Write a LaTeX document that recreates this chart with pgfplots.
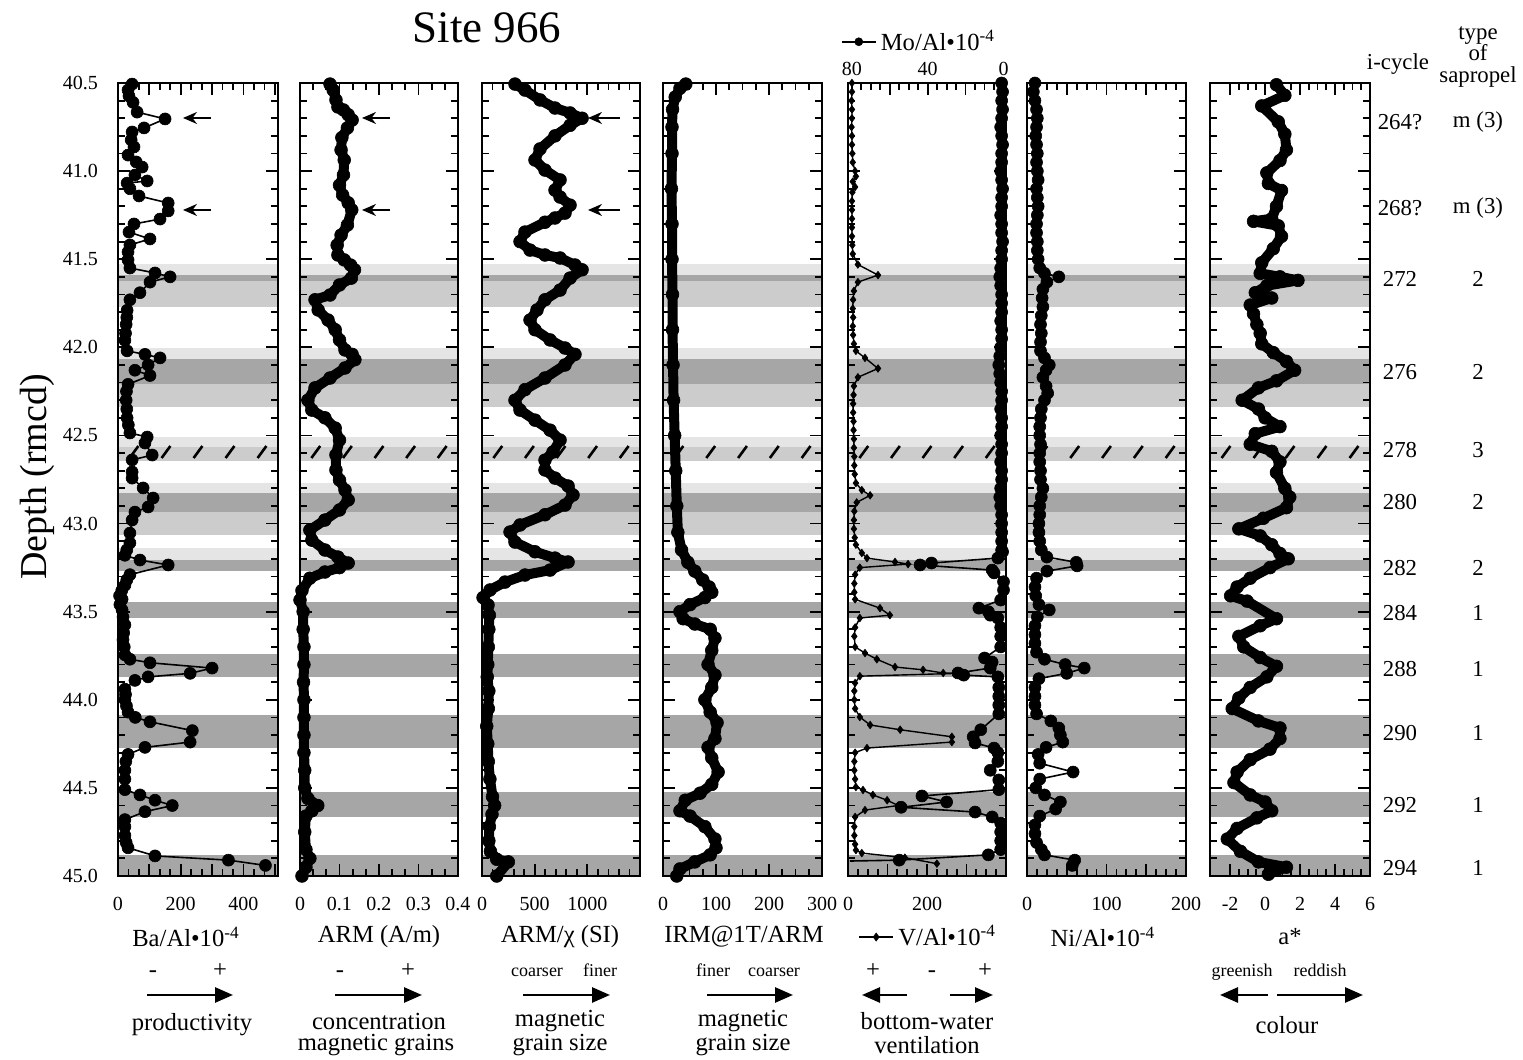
\documentclass[border=0pt]{standalone}
\usepackage{fontspec}
\setmainfont{Liberation Serif}
\usepackage{pgfplots}
\pgfplotsset{compat=1.18}
\usetikzlibrary{arrows.meta}
\definecolor{vlight}{gray}{0.90}
\definecolor{lgray}{gray}{0.80}
\definecolor{dgray}{gray}{0.65}
\newcommand\band[3]{\fill[#1] ({rel axis cs:0,0}|-{axis cs:0,#2}) rectangle ({rel axis cs:1,0}|-{axis cs:0,#3});}
\newcommand\allbands{%
\band{vlight}{41.527}{41.590}\band{dgray}{41.590}{41.624}\band{lgray}{41.624}{41.771}%
\band{vlight}{42.004}{42.066}\band{dgray}{42.066}{42.208}\band{lgray}{42.208}{42.339}%
\band{vlight}{42.509}{42.566}\band{lgray}{42.566}{42.645}%
\band{vlight}{42.770}{42.827}\band{dgray}{42.827}{42.935}\band{lgray}{42.935}{43.065}%
\band{vlight}{43.139}{43.207}\band{dgray}{43.207}{43.270}%
\band{dgray}{43.446}{43.536}\band{dgray}{43.740}{43.871}\band{dgray}{44.087}{44.274}%
\band{dgray}{44.524}{44.666}\band{dgray}{44.881}{45.0}%
\pgfplotsinvokeforeach{0.1,0.3,0.5,0.7,0.9}{\draw[line width=1.3pt] ({rel axis cs:##1,0}|-{axis cs:0,42.594}) ++(-2.2pt,-3pt) -- ++(4.4pt,6pt);}%
}
\pgfplotsset{
 panel/.style={scale only axis, height=396.5pt, anchor=south west,
  y dir=reverse, ymin=40.5, ymax=45,
  ytick={40.5,41,41.5,42,42.5,43,43.5,44,44.5,45}, minor y tick num=4, yticklabels={},
  xtick pos=both, xticklabel pos=lower, ytick pos=both,
  tick align=inside, major tick length=6pt, minor tick length=3.3pt,
  every tick/.style={line width=0.9pt, black},
  axis line style={line width=1.4pt},
  clip=false, axis on top,
  tick label style={font=\fontsize{10}{12}\selectfont},
  /pgf/number format/assume math mode=true},
 lowlab/.style={xticklabel style={yshift=-7pt}},
 thick/.style={black, line width=5pt, line join=round, line cap=round, mark=*, mark size=3.2pt, mark options={line width=0.3pt}},
 dots/.style={black, line width=0.8pt, mark=*, mark size=3pt, mark options={line width=0.3pt}},
}
\newcommand\fa{\fontsize{12.3}{14}\selectfont}
\newcommand\fs{\fontsize{9}{11}\selectfont}
\newcommand\fr{\fontsize{11.4}{10.8}\selectfont}
\begin{document}
\begin{tikzpicture}
\path[use as bounding box] (0,0) rectangle (761.5pt,530pt);
% ---------- Panel 1: Ba/Al
\begin{axis}[panel, lowlab, at={(59pt,92pt)}, width=80pt, xmin=0, xmax=510,
 xtick={0,100,200,300,400,500}, xticklabels={0,,200,,400,}, minor x tick num=2,
 yticklabels={40.5,41.0,41.5,42.0,42.5,43.0,43.5,44.0,44.5,45.0}, yticklabel style={xshift=-6.5pt}]
\allbands
\addplot[dots] coordinates {(45,40.506)(32,40.54)(35,40.574)(48,40.61)(61,40.665)(150,40.704)(83,40.755)(45,40.778)(42,40.823)(51,40.863)(32,40.909)(58,40.948)(77,40.977)(54,41.022)(93,41.056)(29,41.068)(38,41.10)(67,41.141)(160,41.181)(160,41.226)(134,41.272)(51,41.30)(35,41.346)(102,41.385)(38,41.419)(32,41.459)(32,41.504)(38,41.55)(118,41.578)(166,41.60)(102,41.63)(70,41.69)(38,41.73)(29,41.79)(28,41.83)(26,41.87)(24,41.92)(22,41.96)(29,42.02)(86,42.04)(134,42.06)(96,42.10)(54,42.13)(102,42.16)(32,42.21)(27,42.25)(26,42.30)(28,42.35)(29,42.40)(33,42.44)(38,42.486)(93,42.509)(86,42.543)(109,42.611)(45,42.639)(45,42.707)(45,42.742)(80,42.798)(112,42.855)(96,42.906)(54,42.935)(45,42.98)(38,43.054)(38,43.11)(28,43.15)(22,43.18)(70,43.207)(160,43.235)(38,43.29)(28,43.32)(22,43.35)(12,43.38)(5,43.41)(13,43.43)(6,43.46)(13,43.49)(16,43.53)(22,43.575)(18,43.62)(16,43.66)(20,43.70)(22,43.745)(38,43.77)(102,43.79)(300,43.82)(230,43.85)(96,43.87)(54,43.89)(22,43.94)(24,43.97)(22,44.0)(27,44.035)(32,44.07)(55,44.10)(102,44.125)(237,44.175)(230,44.24)(86,44.27)(32,44.31)(25,44.35)(22,44.40)(22,44.45)(22,44.51)(70,44.54)(118,44.57)(173,44.60)(86,44.635)(22,44.68)(22,44.72)(22,44.77)(26,44.81)(32,44.84)(118,44.886)(352,44.91)(470,44.94)};
\end{axis}
% ---------- Panel 2: ARM
\begin{axis}[panel, lowlab, at={(150pt,92pt)}, width=79pt, xmin=0, xmax=0.4,
 xtick={0,0.1,0.2,0.3,0.4}, xticklabels={0,0.1,0.2,0.3,0.4}, minor x tick num=2]
\allbands
\addplot[thick] coordinates {(0.076,40.506)(0.084,40.54)(0.091,40.596)(0.096,40.636)(0.110,40.653)(0.122,40.68)(0.132,40.71)(0.120,40.755)(0.106,40.81)(0.104,40.88)(0.112,40.937)(0.110,41.022)(0.10,41.08)(0.108,41.136)(0.122,41.18)(0.131,41.22)(0.120,41.306)(0.104,41.363)(0.094,41.42)(0.096,41.476)(0.112,41.504)(0.128,41.533)(0.138,41.56)(0.130,41.607)(0.10,41.646)(0.076,41.703)(0.038,41.73)(0.046,41.788)(0.071,41.845)(0.089,41.90)(0.10,41.958)(0.114,42.015)(0.132,42.04)(0.139,42.07)(0.114,42.117)(0.076,42.174)(0.038,42.23)(0.020,42.30)(0.03,42.356)(0.063,42.40)(0.089,42.458)(0.10,42.526)(0.091,42.61)(0.091,42.696)(0.10,42.753)(0.114,42.81)(0.122,42.866)(0.10,42.923)(0.063,42.98)(0.025,43.037)(0.03,43.094)(0.063,43.15)(0.096,43.19)(0.122,43.224)(0.10,43.25)(0.063,43.275)(0.025,43.31)(0.005,43.38)(0.0,43.434)(0.008,43.5)(0.008,43.6)(0.01,43.7)(0.01,43.8)(0.009,43.9)(0.01,44.0)(0.01,44.1)(0.01,44.2)(0.01,44.3)(0.012,44.4)(0.012,44.5)(0.02,44.56)(0.045,44.6)(0.03,44.63)(0.015,44.66)(0.012,44.75)(0.015,44.85)(0.025,44.9)(0.015,44.95)(0.005,45.0)};
\end{axis}
% ---------- Panel 3: ARM/chi
\begin{axis}[panel, lowlab, at={(241pt,92pt)}, width=79pt, xmin=0, xmax=1500,
 xtick={0,500,1000,1500}, xticklabels={0,500,1000,}, minor x tick num=4]
\allbands
\addplot[thick] coordinates {(313,40.506)(408,40.54)(551,40.596)(693,40.642)(836,40.67)(950,40.70)(836,40.74)(693,40.80)(551,40.874)(503,40.937)(598,40.994)(741,41.05)(693,41.108)(741,41.147)(836,41.193)(788,41.238)(693,41.266)(598,41.29)(408,41.346)(361,41.40)(456,41.448)(598,41.476)(741,41.493)(883,41.533)(950,41.56)(836,41.607)(741,41.675)(598,41.73)(522,41.788)(456,41.845)(503,41.90)(646,41.958)(788,42.004)(883,42.04)(788,42.10)(598,42.174)(408,42.24)(313,42.30)(361,42.356)(503,42.413)(646,42.47)(741,42.526)(674,42.594)(598,42.64)(598,42.696)(693,42.742)(817,42.787)(864,42.838)(788,42.895)(598,42.95)(361,43.008)(266,43.048)(313,43.105)(503,43.16)(693,43.196)(817,43.218)(646,43.264)(408,43.292)(218,43.332)(76,43.377)(10,43.42)(57,43.462)(70,43.52)(65,43.6)(60,43.7)(55,43.8)(50,43.87)(65,43.95)(60,44.05)(45,44.15)(55,44.25)(60,44.35)(75,44.45)(100,44.55)(120,44.6)(95,44.65)(70,44.72)(65,44.8)(80,44.86)(140,44.905)(250,44.92)(140,45.0)};
\end{axis}
% ---------- Panel 4: IRM
\begin{axis}[panel, lowlab, at={(331.5pt,92pt)}, width=79.5pt, xmin=0, xmax=300,
 xtick={0,100,200,300}, xticklabels={0,100,200,300}, minor x tick num=3]
\allbands
\addplot[thick] coordinates {(43,40.506)(32,40.53)(23,40.58)(18,40.65)(17,40.75)(17,40.90)(16,41.10)(17,41.30)(17,41.50)(18,41.70)(18,41.90)(19,42.10)(20,42.30)(22,42.50)(24,42.70)(26,42.90)(28,43.05)(35,43.15)(47,43.22)(60,43.27)(75,43.32)(87,43.36)(92,43.39)(79,43.42)(51,43.46)(32,43.50)(38,43.54)(60,43.57)(89,43.60)(98,43.65)(92,43.72)(85,43.80)(98,43.86)(92,43.93)(79,44.00)(89,44.07)(102,44.13)(98,44.22)(85,44.27)(92,44.33)(104,44.41)(92,44.48)(70,44.53)(42,44.57)(32,44.63)(51,44.66)(79,44.72)(98,44.79)(100,44.84)(89,44.88)(60,44.92)(32,44.96)(26,45.00)};
\end{axis}
% ---------- Panel 5: V/Al (bottom) and Mo/Al (top, reversed)
\begin{axis}[panel, lowlab, at={(424pt,92pt)}, width=79pt, xmin=0, xmax=400,
 xtick pos=bottom, xtick={0,100,200,300,400}, xticklabels={0,,200,,}, minor x tick num=3,
 legend style={draw=none, fill=none, at={(0.513,-0.077)}, anchor=center, font=\fa},
 legend image post style={mark size=2pt, line width=1pt}]
\allbands
\addplot[black, line width=0.7pt, mark=diamond*, mark size=1.9pt, mark options={line width=0.3pt}] coordinates {(10,40.50)(10,40.55)(9,40.60)(10,40.65)(10,40.70)(9,40.75)(10,40.80)(10,40.85)(11,40.90)(12,40.95)(18,41.0)(20,41.03)(12,41.06)(18,41.09)(11,41.12)(10,41.17)(10,41.22)(10,41.27)(10,41.32)(10,41.37)(11,41.42)(12,41.47)(25,41.53)(76,41.59)(25,41.63)(15,41.68)(13,41.73)(12,41.78)(13,41.83)(12,41.88)(13,41.93)(15,41.98)(20,42.02)(43,42.06)(76,42.12)(25,42.17)(15,42.22)(14,42.27)(13,42.32)(13,42.37)(14,42.42)(14,42.47)(15,42.52)(15,42.57)(16,42.62)(16,42.67)(17,42.72)(20,42.77)(35,42.81)(56,42.84)(22,42.88)(16,42.93)(15,42.98)(15,43.03)(17,43.08)(20,43.12)(35,43.167)(48,43.196)(119,43.218)(152,43.23)(30,43.25)(18,43.29)(16,43.34)(16,43.39)(18,43.43)(81,43.48)(106,43.52)(30,43.536)(18,43.59)(16,43.64)(18,43.70)(43,43.735)(73,43.77)(119,43.814)(190,43.83)(241,43.848)(278,43.85)(30,43.866)(18,43.905)(16,43.95)(16,44.0)(18,44.05)(30,44.098)(56,44.143)(132,44.17)(263,44.21)(263,44.24)(48,44.274)(18,44.30)(16,44.35)(16,44.40)(18,44.45)(20,44.495)(38,44.512)(63,44.54)(99,44.57)(127,44.60)(43,44.626)(18,44.665)(16,44.72)(16,44.77)(18,44.82)(20,44.853)(35,44.87)(144,44.896)(225,44.93)};
\addlegendentry{V/Al•10\textsuperscript{-4}}
\end{axis}
\begin{axis}[panel, at={(424pt,92pt)}, width=79pt, xmin=-1.3, xmax=82, x dir=reverse,
 xtick pos=top, xticklabel pos=upper, ytick=\empty, minor y tick num=0,
 xtick={0,20,40,60,80}, xticklabels={0,,40,,80}, minor x tick num=3,
 legend style={draw=none, fill=none, at={(0.455,1.052)}, anchor=center, font=\fa},
 legend image post style={mark size=2pt, line width=1pt}]
\addplot[dots] coordinates {(1,40.50)(0.5,40.55)(1,40.60)(0.5,40.65)(1,40.70)(1.5,40.75)(1,40.80)(0.5,40.85)(1,40.90)(1,40.95)(1.5,41.00)(1,41.05)(0.5,41.10)(1,41.15)(1,41.20)(1.5,41.25)(1,41.30)(1,41.35)(0.5,41.40)(1,41.45)(1,41.50)(1.5,41.55)(2,41.60)(1.5,41.65)(1,41.70)(1,41.75)(1,41.80)(1.5,41.85)(1,41.90)(1,41.95)(1.5,42.00)(2,42.05)(2.5,42.10)(2,42.15)(1.5,42.20)(1,42.25)(1,42.30)(1.5,42.35)(1,42.40)(1,42.45)(1.5,42.50)(1,42.55)(1,42.60)(1.5,42.65)(1,42.70)(1,42.75)(1.5,42.80)(2,42.85)(1.5,42.90)(1,42.95)(1,43.00)(1,43.05)(1,43.10)(1,43.15)(0.5,43.16)(3,43.196)(38,43.224)(44,43.235)(6,43.264)(5,43.28)(0,43.33)(0,43.377)(1.5,43.434)(13,43.48)(8,43.50)(7,43.52)(3,43.536)(1.5,43.59)(1.5,43.64)(1.5,43.70)(10,43.763)(6,43.786)(7,43.82)(24,43.848)(21,43.86)(3,43.87)(2.5,43.93)(2.5,43.98)(2.5,44.03)(2.5,44.08)(12,44.17)(16,44.21)(15,44.245)(5,44.274)(3,44.30)(3,44.35)(7,44.40)(2.5,44.455)(2.5,44.51)(43,44.546)(30,44.58)(54,44.61)(15,44.637)(6,44.665)(1.5,44.70)(1.5,44.75)(1.5,44.80)(1.5,44.85)(8,44.88)(55,44.91)};
\addlegendentry{Mo/Al•10\textsuperscript{-4}}
\addplot[black, line width=0.8pt, forget plot] coordinates {(55,44.91)(81,44.915)};
\end{axis}
% ---------- Panel 6: Ni/Al
\begin{axis}[panel, lowlab, at={(513.5pt,92pt)}, width=79.5pt, xmin=0, xmax=200,
 xtick={0,50,100,150,200}, xticklabels={0,,100,,200}, minor x tick num=3]
\allbands
\addplot[dots] coordinates {(10,40.50)(8,40.55)(10,40.60)(12,40.65)(13,40.70)(12,40.75)(11,40.80)(12,40.85)(13,40.90)(12,40.95)(13,41.00)(14,41.05)(12,41.10)(13,41.15)(14,41.20)(13,41.25)(12,41.30)(12,41.35)(13,41.40)(13,41.45)(14,41.50)(16,41.55)(22,41.58)(40,41.60)(25,41.63)(20,41.67)(19,41.72)(20,41.77)(18,41.82)(17,41.87)(18,41.92)(17,41.97)(17,42.02)(22,42.06)(28,42.10)(24,42.13)(20,42.17)(24,42.22)(26,42.26)(22,42.30)(18,42.35)(17,42.40)(16,42.45)(16,42.50)(17,42.55)(16,42.60)(16,42.65)(17,42.70)(17,42.75)(20,42.80)(18,42.85)(16,42.90)(16,42.95)(15,43.00)(15,43.05)(16,43.10)(18,43.15)(25,43.19)(62,43.22)(63,43.24)(25,43.27)(12,43.31)(10,43.36)(11,43.41)(15,43.46)(28,43.49)(13,43.53)(10,43.58)(10,43.63)(10,43.68)(12,43.73)(22,43.77)(48,43.80)(72,43.82)(50,43.85)(15,43.88)(10,43.93)(10,43.98)(10,44.03)(12,44.08)(30,44.12)(40,44.16)(42,44.20)(45,44.24)(24,44.27)(14,44.31)(16,44.36)(58,44.41)(16,44.45)(11,44.50)(22,44.54)(42,44.58)(36,44.62)(16,44.66)(10,44.71)(10,44.76)(12,44.81)(18,44.85)(22,44.88)(60,44.91)(57,44.94)};
\end{axis}
% ---------- Panel 7: a*
\begin{axis}[panel, lowlab, at={(605pt,92pt)}, width=80pt, xmin=-3.15, xmax=6,
 xtick={-2,0,2,4,6}, xticklabels={-2,0,2,4,6}, minor x tick num=3]
\allbands
\addplot[thick] coordinates {(0.65,40.51)(1.13,40.57)(-0.19,40.63)(0.75,40.72)(1.13,40.79)(1.22,40.88)(0.85,40.94)(0.10,41.01)(0.19,41.07)(0.94,41.11)(0.65,41.20)(0.38,41.27)(-0.66,41.285)(0.75,41.31)(0.94,41.37)(0.47,41.44)(-0.19,41.52)(-0.28,41.58)(0.85,41.60)(1.88,41.62)(0.10,41.65)(-0.56,41.69)(0.38,41.72)(-0.85,41.76)(-0.66,41.81)(-0.47,41.87)(-0.28,41.92)(-0.19,41.98)(0.47,42.03)(1.22,42.08)(1.69,42.13)(0.65,42.19)(-0.38,42.23)(-1.31,42.30)(-0.38,42.35)(0,42.40)(0.85,42.45)(-0.56,42.49)(-0.85,42.55)(0.38,42.59)(0.85,42.65)(0.65,42.71)(1.13,42.80)(1.41,42.85)(1.22,42.91)(-0.10,42.97)(-1.50,43.03)(-0.28,43.07)(0.38,43.12)(0.85,43.17)(1.32,43.20)(0.28,43.25)(-0.85,43.31)(-1.60,43.36)(-1.97,43.41)(-1.03,43.44)(0.65,43.54)(-0.28,43.58)(-1.50,43.64)(-1.22,43.70)(-0.28,43.76)(0.65,43.81)(0.10,43.87)(-0.85,43.93)(-1.50,43.99)(-1.88,44.05)(-0.38,44.12)(0.85,44.16)(0.85,44.22)(0.28,44.28)(-0.85,44.34)(-1.60,44.41)(-1.78,44.47)(-0.85,44.54)(0,44.58)(0.38,44.63)(-0.47,44.67)(-1.60,44.73)(-2.16,44.79)(-1.41,44.86)(-0.38,44.92)(1.22,44.95)(0.19,44.99)};
\end{axis}
% ---------- Texts
\node[font=\fontsize{22.5}{27}\selectfont] at (243.5pt,516pt) {Site 966};
\node[rotate=90,font=\fontsize{19}{23}\selectfont] at (18.5pt,291.5pt) {Depth (rmcd)};
% left arrows in panels
\foreach \ya in {471,425}{
 \draw[line width=1pt,-{Stealth[length=7pt,width=6pt]}] (105.5pt,\ya pt) -- (91.5pt,\ya pt);
 \draw[line width=1pt,-{Stealth[length=7pt,width=6pt]}] (195pt,\ya pt) -- (181pt,\ya pt);
 \draw[line width=1pt,-{Stealth[length=7pt,width=6pt]}] (310pt,\ya pt) -- (294pt,\ya pt);
}
% axis labels
\node[font=\fa] at (93pt,61.5pt) {Ba/Al•10\textsuperscript{-4}};
\node[font=\fa] at (189.5pt,61.5pt) {ARM (A/m)};
\node[font=\fa] at (280pt,61.5pt) {ARM/χ (SI)};
\node[font=\fa] at (372pt,61.5pt) {IRM@1T/ARM};
\node[font=\fa] at (551.5pt,61.5pt) {Ni/Al•10\textsuperscript{-4}};
\node[font=\fa] at (645pt,61.5pt) {a*};
% signs
\tikzset{sg/.style={font=\fa, anchor=base, inner sep=0pt}, sw/.style={font=\fs, anchor=base, inner sep=0pt}}
\node[sg] at (76.5pt,41pt) {-};
\node[sg] at (110pt,41pt) {+};
\node[sg] at (170pt,41pt) {-};
\node[sg] at (204pt,41pt) {+};
\node[sg] at (436.5pt,41pt) {+};
\node[sg] at (466pt,41pt) {-};
\node[sg] at (492.5pt,41pt) {+};
\node[sw] at (268.5pt,41.5pt) {coarser};
\node[sw] at (300pt,41.5pt) {finer};
\node[sw] at (356.5pt,41.5pt) {finer};
\node[sw] at (387pt,41.5pt) {coarser};
\node[sw] at (621pt,41.5pt) {greenish};
\node[sw] at (660pt,41.5pt) {reddish};
% arrows
\tikzset{barr/.style={line width=1.3pt,-{Triangle[length=9pt,width=7.5pt]}}}
\draw[barr] (73.5pt,32.5pt) -- (116.5pt,32.5pt);
\draw[barr] (167.5pt,32.5pt) -- (211pt,32.5pt);
\draw[barr] (261.5pt,32.5pt) -- (305pt,32.5pt);
\draw[barr] (353.5pt,32.5pt) -- (396.5pt,32.5pt);
\draw[barr] (453.5pt,32.5pt) -- (431pt,32.5pt);
\draw[barr] (475pt,32.5pt) -- (496.5pt,32.5pt);
\draw[barr] (634pt,32.5pt) -- (610pt,32.5pt);
\draw[barr] (638.5pt,32.5pt) -- (681.5pt,32.5pt);
% descriptions
\node[font=\fa] at (96pt,17.5pt) {productivity};
\node[font=\fa] at (189.5pt,19.5pt) {concentration};
\node[font=\fa] at (188pt,7.5pt) {magnetic grains};
\node[font=\fa] at (280pt,19.5pt) {magnetic};
\node[font=\fa] at (280pt,7.5pt) {grain size};
\node[font=\fa] at (371.5pt,19.5pt) {magnetic};
\node[font=\fa] at (371.5pt,7.5pt) {grain size};
\node[font=\fa] at (463.5pt,19.5pt) {bottom-water};
\node[font=\fa] at (463.5pt,7.5pt) {ventilation};
\node[font=\fa] at (643.5pt,17.5pt) {colour};
% right side
\node[font=\fr] at (699pt,498pt) {i-cycle};
\node[font=\fr, align=center] at (739pt,501.5pt) {type\\of\\sapropel};
\foreach \c/\t/\yy in {264?/m (3)/469, 268?/m (3)/426, 272/2/390.5, 276/2/344, 278/3/305, 280/2/279, 282/2/246, 284/1/223.5, 288/1/195.5, 290/1/163.5, 292/1/127.5, 294/1/96}{
 \node[font=\fr] at (700pt,\yy pt) {\c};
 \node[font=\fr] at (739pt,\yy pt) {\t};
}
\end{tikzpicture}
\end{document}
